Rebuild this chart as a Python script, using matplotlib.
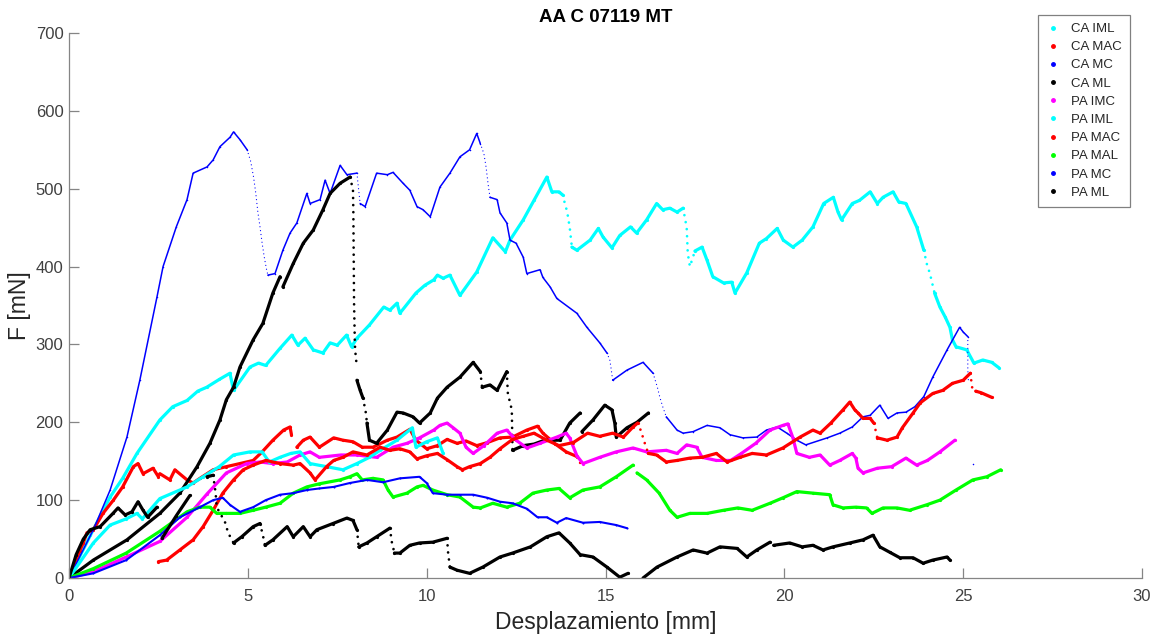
import numpy as np
import matplotlib
matplotlib.use("Agg")
import matplotlib.pyplot as plt
from matplotlib.lines import Line2D

nan = np.nan
plt.rcParams['font.family'] = ['Liberation Sans', 'DejaVu Sans']

title = "AA C 07119 MT"
xlabel = "Desplazamiento [mm]"
ylabel = "F [mN]"
labels = ["CA IML", "CA MAC", "CA MC", "CA ML", "PA IMC", "PA IML", "PA MAC", "PA MAL", "PA MC", "PA ML"]
colors = ["#00FFFF", "#FF0000", "#0000FF", "#000000", "#FF00FF", "#00FFFF", "#FF0000", "#00FF00", "#0000FF", "#000000"]
xticks = [0, 5, 10, 15, 20, 25, 30]
yticks = [0, 100, 200, 300, 400, 500, 600, 700]

# ---- densely sampled parts (drawn as continuous traces) ----
ca_iml_x = [0, 0.6, 1.15, 1.5, 1.9, 2.54, 2.9, 3.3, 3.6, 3.85, 4.2, 4.5, 4.6, 5.06, 5.3, 5.5, 5.9, 6.23, 6.4, 6.6, 6.83, 7.1, 7.3, 7.5, 7.76, 7.9, 8.05, 8.4, 8.8, 8.97, 9.17, 9.25, 9.7, 9.95, 10.2, 10.3, 10.46, 10.65, 10.93, 11.4, 11.85, 12.2, 12.33, 12.7, 13.0, 13.36, 13.5, 13.7, 13.8,
            nan, 14.06, 14.2, 14.57, 14.8, 14.93, 15.18, 15.4, 15.7, 15.87, 16.15, 16.43, 16.6, 16.8, 17.0, 17.17,
            nan, 17.5, 17.7, 17.84, 18.0, 18.3, 18.53, 18.62, 18.95, 19.3, 19.5, 19.8, 19.97, 20.24, 20.5, 20.8, 21.1, 21.37, 21.5, 21.6, 21.9, 22.1, 22.4, 22.6, 22.76, 23.04, 23.2, 23.4, 23.7, 23.9,
            nan, 24.2, 24.35, 24.5, 24.63, 24.7, 24.8, 25.1, 25.3, 25.55, 25.8, 26.0]
ca_iml_y = [0, 55, 104, 128, 160, 203, 220, 228, 240, 245, 255, 263, 241, 271, 276, 273, 295, 312, 299, 308, 293, 289, 302, 299, 312, 297, 308, 325, 348, 344, 353, 340, 366, 376, 383, 389, 385, 389, 363, 393, 437, 419, 434, 460, 485, 515, 496, 496, 492,
            nan, 425, 421, 434, 449, 438, 424, 440, 451, 443, 460, 481, 473, 475, 470, 475,
            nan, 420, 425, 408, 387, 379, 380, 366, 392, 430, 436, 449, 434, 425, 434, 451, 481, 489, 470, 460, 481, 485, 496, 481, 489, 496, 483, 481, 451, 421,
            nan, 366, 348, 335, 322, 306, 297, 293, 276, 280, 277, 270]

ca_mac_x = [0, 0.3, 0.4, 0.5, 0.68, 0.95, 1.24, 1.5, 1.8, 1.93, 2.07, 2.35, 2.5, nan, 2.54, 2.82, 2.96, 3.3, 3.47, 3.66, 4.03, 4.4, 4.78, 5.15, 5.4, 5.7, 6.0, 6.18, 6.22,
            nan, 6.37, 6.55, 6.74, 7.0, 7.4, 7.66, 7.94, 8.2, 8.5, 8.9, 9.17, 9.53, 9.7, 10.0, 10.3, 10.57, 10.85, 11.1, 11.4, 11.7, 12.05, 12.4, 12.8, 13.1, 13.25, 13.6, 13.9, 14.2]
ca_mac_y = [0, 35, 45, 58, 62, 83, 100, 117, 143, 147, 134, 141, 130, nan, 134, 126, 139, 126, 122, 128, 139, 143, 147, 151, 162, 177, 190, 194, 184,
            nan, 168, 177, 181, 168, 180, 177, 175, 168, 168, 177, 181, 191, 177, 166, 170, 178, 173, 176, 170, 174, 180, 181, 190, 195, 186, 172, 162, 156]

ca_mc_x = [0, 0.68, 1.15, 1.62, 1.98, 2.46, 2.63, 3.0, 3.3, 3.47, 3.86, 4.03, 4.22, 4.5, 4.6, 4.78, 4.98,
           nan, 5.56, 5.76, 5.98, 6.18, 6.37, 6.65, 6.74, 7.02, 7.16, 7.3, 7.58, 7.77, 8.05,
           nan, 8.14, 8.28, 8.6, 8.9, 9.06, 9.34, 9.53, 9.73, 9.9, 10.1, 10.37, 10.65, 10.93, 11.2, 11.4, 11.5,
           nan, 11.77, 11.97, 12.05, 12.24, 12.33, 12.5, 12.7, 12.8, 13.17, 13.25, 13.45, 13.64, 14.2, 14.48, 14.84, 15.04,
           nan, 15.2, 15.6, 16.05, 16.33,
           nan, 16.7, 17.0, 17.17, 17.45, 17.84, 18.2, 18.48, 18.84, 19.23, 19.5, 19.8, 20.07, 20.35, 20.6, 21.2, 21.55, 21.9, 22.2, 22.4, 22.67, 22.9, 23.15, 23.4, 23.65, 23.9, 24.15, 24.55, 24.9, 25.0, 25.13,
           nan, 25.27]
ca_mc_y = [0, 62, 113, 181, 254, 361, 400, 451, 486, 520, 528, 537, 554, 566, 573, 563, 550,
           nan, 389, 391, 421, 443, 456, 494, 481, 486, 511, 494, 530, 518, 520,
           nan, 481, 477, 520, 518, 521, 507, 498, 477, 473, 464, 502, 520, 541, 550, 571, 558,
           nan, 489, 486, 469, 456, 434, 430, 412, 391, 396, 386, 374, 359, 340, 322, 302, 289,
           nan, 254, 267, 277, 263,
           nan, 207, 190, 186, 188, 196, 193, 184, 180, 181, 190, 194, 186, 177, 171, 180, 186, 194, 207, 209, 222, 205, 212, 213, 220, 233, 258, 293, 322, 316, 310,
           nan, 146]

ca_ml_x = [0, 0.68, 1.62, 2.54, 3.1, 3.58, 3.94, 4.22, 4.4, 4.6, 4.78, 5.15, 5.42, 5.7, 5.9, nan, 5.98, 6.27, 6.55, 6.83, 7.1, 7.3, 7.58, 7.86,
           nan, 8.05, 8.14, 8.22, nan,
           8.33, 8.4, 8.6, 8.9, 9.17, 9.34, 9.62, 9.8, 10.1, 10.3, 10.57, 10.93, 11.3, 11.5, nan, 11.55, 11.77, 11.97, 12.24,
           nan, 12.4, 12.7, 13.0, 13.3, 13.73, 14.0, 14.29, nan, 14.34, 14.65, 14.98, 15.18, 15.26, 15.3, 15.6, 15.88, 16.2]
ca_ml_y = [0, 23, 49, 83, 109, 143, 173, 203, 229, 245, 271, 306, 327, 366, 387, nan, 374, 404, 430, 447, 473, 494, 507, 515,
           nan, 254, 241, 231, nan,
           199, 177, 173, 190, 213, 212, 207, 199, 212, 231, 245, 258, 277, 265, nan, 245, 248, 241, 265,
           nan, 164, 170, 172, 177, 177, 199, 212, nan, 188, 203, 222, 216, 199, 181, 193, 200, 212]

pa_imc_x = [0, 0.68, 1.6, 2.54, 3.3, 3.86, 4.4, 4.97, 5.34, 5.7, 6.1, 6.46, 6.74, 7.0, 7.6, 8.05, 8.6, 9.06, 9.45, 9.8, 10.2, 10.37, 10.57, 10.74, 10.93, 11.1, 11.3, 11.6, 11.97, 12.24, 12.5, 12.8, 13.17, 13.64, 13.9, 14.0, 14.2, 14.37, 14.84, 15.3, 15.77, 16.15, 16.7, 17.0, 17.27, 17.55, 17.7, 18.1, 18.5, 18.8, 19.2, 19.6, 19.96, 20.1, 20.24, 20.35, 20.7, 21.0, 21.27, 21.55, 21.9, 22.0, 22.06, 22.2, 22.6, 23.0, 23.4, 23.7, 24.0, 24.35, 24.77]
pa_imc_y = [0, 8, 27, 47, 78, 108, 135, 147, 149, 147, 149, 158, 162, 155, 158, 158, 155, 168, 173, 180, 190, 196, 199, 193, 186, 168, 160, 170, 186, 190, 177, 167, 173, 181, 186, 180, 157, 147, 155, 162, 167, 162, 164, 160, 171, 168, 155, 151, 151, 160, 173, 190, 196, 198, 180, 160, 155, 158, 145, 151, 160, 154, 141, 135, 141, 143, 154, 145, 151, 162, 177]

pa_iml_x = [0, 0.68, 1.15, 1.6, 1.9, 2.05, 2.54, 3.3, 3.75, 4.2, 4.6, 5.06, 5.4, 5.6, 5.9, 6.2, 6.46, 6.74, 7.2, 7.66, 8.05, 8.4, 8.7, 9.17, 9.6, 9.7, 10.0, 10.3, 10.46]
pa_iml_y = [0, 45, 68, 76, 83, 76, 102, 117, 130, 143, 158, 162, 162, 149, 155, 160, 162, 147, 143, 139, 147, 155, 164, 177, 193, 168, 175, 180, 160]

pa_mac_x = [2.5, 2.73, 3.1, 3.47, 3.75, 4.03, 4.3, 4.6, 4.87, 5.15, 5.5, 5.9, 6.27, 6.46, 6.74, 6.88, 7.2, 7.4, 7.66, 7.94, 8.33, 8.7, 8.97, 9.25, 9.53, 9.73, 10.0, 10.3, 10.57, 10.85, 11.0, 11.2, 11.5, 11.77, 12.05, 12.4, 12.7, 13.0, 13.36, 13.7, 14.1, 14.5, 14.84, 15.2, 15.5, 15.77, 15.9,
            nan, 16.2, 16.43, 16.7, 17.0, 17.36, 17.7, 18.1, 18.4, 18.76, 19.1, 19.5, 19.96, 20.44, 20.8, 21.0, 21.3, 21.64, 21.83, 21.97, 22.06, 22.2, 22.4, 22.5,
            nan, 22.6, 22.87, 23.15, 23.3, 23.6, 23.8, 24.15, 24.43, 24.7, 25.0, 25.2, nan, 25.35, 25.5, 25.8]
pa_mac_y = [21, 23, 36, 49, 66, 87, 109, 126, 139, 145, 151, 147, 145, 147, 135, 126, 143, 151, 155, 162, 158, 168, 164, 166, 162, 153, 157, 160, 152, 143, 139, 143, 147, 155, 166, 178, 182, 186, 177, 170, 174, 186, 182, 186, 181, 194, 199,
            nan, 160, 158, 149, 151, 154, 155, 160, 149, 155, 160, 158, 167, 181, 190, 186, 199, 216, 226, 216, 212, 205, 205, 199,
            nan, 180, 177, 181, 193, 212, 225, 237, 241, 250, 254, 263, nan, 240, 238, 232]

pa_mal_x = [0, 0.68, 1.6, 2.54, 3.3, 3.66, 3.94, 4.13, 4.4, 4.78, 5.15, 5.5, 5.9, 6.27, 6.65, 7.0, 7.58, 7.85, 8.05, 8.2, 8.5, 8.78, 8.92, 9.06, 9.45, 9.73, 9.9, 10.17, 10.57, 10.93, 11.3, 11.5, 11.85, 12.24, 12.6, 12.97, 13.36, 13.7, 14.0, 14.37, 14.84, 15.3, 15.77, nan, 15.88, 16.15, 16.5, 16.8, 17.0, 17.36, 17.84, 18.3, 18.7, 19.1, 19.6, 19.96, 20.35, 20.8, 21.27, 21.36, 21.64, 22.0, 22.3, 22.45, 22.76, 23.15, 23.5, 23.98, 24.35, 24.8, 25.27, 25.66, 26.05]
pa_mal_y = [0, 12, 32, 60, 85, 91, 91, 83, 83, 83, 87, 91, 96, 109, 117, 121, 126, 130, 134, 126, 128, 126, 113, 104, 109, 117, 119, 113, 107, 104, 91, 90, 96, 91, 96, 109, 113, 115, 103, 113, 117, 130, 145, nan, 135, 126, 109, 87, 78, 83, 83, 87, 90, 87, 96, 103, 111, 109, 107, 94, 90, 91, 90, 83, 90, 90, 87, 94, 100, 113, 126, 130, 139]

pa_mc_x = [0, 0.68, 1.6, 2.54, 3.1, 3.66, 4.03, 4.3, 4.5, 4.78, 5.15, 5.5, 5.9, 6.27, 6.65, 7.0, 7.4, 7.85, 8.33, 8.78, 9.25, 9.8, 10.0, 10.17, 10.57, 10.93, 11.3, 11.7, 12.05, 12.4, 12.8, 13.1, 13.36, 13.64, 13.9, 14.37, 14.84, 15.3, 15.6]
pa_mc_y = [0, 6, 23, 55, 78, 91, 100, 103, 94, 85, 91, 100, 107, 109, 113, 115, 117, 122, 126, 123, 128, 130, 122, 109, 107, 107, 107, 103, 98, 96, 89, 78, 78, 71, 77, 71, 72, 68, 64]

pa_ml_x = [0, 0.2, 0.4, 0.59, 0.87, 1.23, 1.37, 1.57, 1.76, 1.93, 2.07, 2.2, 2.46, nan, 2.6, 3.0, 3.38, nan, 3.86, 4.03,
           nan, 4.6, 4.83, 5.15, 5.34, nan,
           5.48, 5.7, 6.1, 6.27, 6.55, 6.74, 6.93, 7.38, 7.77, 7.94, 8.05, nan, 8.1, 8.33, 8.6, 8.97, nan,
           9.1, 9.25, 9.53, 9.8, 10.17, 10.57, nan, 10.65, 10.85, 11.2, 11.57, 12.05, 12.4, 12.9, 13.36, 13.7, 14.0, 14.29, 14.65, 15.04, 15.4, 15.63,
           nan, 16.05, 16.44, 17.0, 17.45, 17.84, 18.2, 18.68, 18.95, 19.23, 19.6, nan, 19.7, 20.15, 20.5, 20.8, 21.08, 21.36, 21.83, 22.2, 22.48, 22.67, 22.95, 23.23, 23.6, 23.88, 24.15, 24.55, 24.63]
pa_ml_y = [0, 30, 50, 62, 66, 83, 90, 81, 85, 98, 87, 78, 91, nan, 51, 80, 106, nan, 130, 132,
           nan, 45, 53, 66, 70, nan,
           42, 49, 66, 53, 66, 53, 62, 70, 77, 74, 62, nan, 40, 45, 53, 64, nan,
           32, 32, 42, 45, 46, 51, nan, 14, 10, 6, 14, 27, 32, 40, 53, 58, 45, 30, 27, 14, 1, 6,
           nan, 0, 14, 27, 36, 32, 40, 38, 27, 36, 46, nan, 42, 45, 40, 42, 36, 40, 45, 49, 55, 40, 33, 26, 26, 19, 23, 27, 23]

# ---- sparsely sampled jumps (drawn as dotted traces) ----
ca_iml_gap_x = [13.8, 13.93, 14.0, 14.06, nan, 17.17, 17.27, 17.3, 17.36, 17.5, nan, 23.9, 23.98, 24.07, 24.2]
ca_iml_gap_y = [492, 470, 450, 425, nan, 475, 450, 417, 400, 420, nan, 421, 404, 391, 366]
ca_mac_gap_x = [14.2, 14.29, 14.34]
ca_mac_gap_y = [156, 148, 143]
ca_mc_gap_x = [4.98, 5.08, 5.16, 5.22, 5.28, 5.34, 5.4, 5.46, 5.52, 5.56, nan, 8.05, 8.1, 8.14, nan, 11.5, 11.6, 11.66, 11.72, 11.77,
               nan, 15.04, 15.12, 15.16, 15.2, nan, 16.33, 16.45, 16.52, 16.6, 16.7, nan, 25.13, 25.13, 25.15]
ca_mc_gap_y = [550, 535, 515, 495, 470, 451, 430, 412, 397, 389, nan, 520, 498, 481, nan, 558, 545, 528, 505, 489,
               nan, 289, 280, 268, 254, nan, 263, 245, 232, 220, 207, nan, 310, 267, 250]
ca_ml_gap_x = [7.86, 7.94, 7.95, 7.97, 7.99, 8.0, 8.05, nan, 8.22, 8.3, 8.33, nan, 11.5, 11.55, nan, 12.24, 12.27, 12.38, 12.4]
ca_ml_gap_y = [515, 498, 470, 353, 306, 293, 270, nan, 231, 212, 199, nan, 265, 245, nan, 265, 237, 216, 164]
pa_mac_gap_x = [15.9, 16.0, 16.07, 16.15, 16.2, nan, 22.5, 22.55, 22.6, nan, 25.2, 25.25, 25.35]
pa_mac_gap_y = [199, 188, 177, 166, 160, nan, 199, 190, 180, nan, 263, 245, 240]
pa_ml_gap_x = [4.03, 4.1, 4.13, 4.36, 4.45, 4.6, nan, 5.34, 5.42, 5.48, nan, 8.05, 8.08, 8.1, nan, 8.97, 9.03, 9.1, nan, 10.57, 10.6, 10.65]
pa_ml_gap_y = [132, 109, 91, 72, 58, 45, nan, 70, 55, 42, nan, 62, 49, 40, nan, 64, 45, 32, nan, 51, 32, 14]

series_x = [ca_iml_x, ca_mac_x, ca_mc_x, ca_ml_x, pa_imc_x, pa_iml_x, pa_mac_x, pa_mal_x, pa_mc_x, pa_ml_x]
series_y = [ca_iml_y, ca_mac_y, ca_mc_y, ca_ml_y, pa_imc_y, pa_iml_y, pa_mac_y, pa_mal_y, pa_mc_y, pa_ml_y]
gaps_x = [ca_iml_gap_x, ca_mac_gap_x, ca_mc_gap_x, ca_ml_gap_x, [], [], pa_mac_gap_x, [], [], pa_ml_gap_x]
gaps_y = [ca_iml_gap_y, ca_mac_gap_y, ca_mc_gap_y, ca_ml_gap_y, [], [], pa_mac_gap_y, [], [], pa_ml_gap_y]
widths = [2.3, 2.3, 1.1, 2.3, 2.3, 2.3, 2.3, 2.3, 1.5, 2.3]

fig = plt.figure(figsize=(11.6, 6.41), dpi=100)
ax = fig.add_axes([69 / 1160, 1 - 578 / 641, (1142 - 69) / 1160, (578 - 33) / 641])

for xs, ys, gx, gy, c, lw in zip(series_x, series_y, gaps_x, gaps_y, colors, widths):
    ax.plot(np.array(xs, float), np.array(ys, float), color=c, lw=lw, marker='o', ms=lw, mew=0,
            solid_joinstyle='round', solid_capstyle='round')
    if len(gx):
        gap_dash = (0, (0.01, 2.6)) if lw > 2 else (0, (0.01, 3.0))
        ax.plot(np.array(gx, float), np.array(gy, float), color=c, lw=lw * 0.85, ls=gap_dash,
                dash_capstyle='round')

ax.set_xlim(0, 30)
ax.set_ylim(0, 700)
ax.set_xticks(xticks)
ax.set_yticks(yticks)
for s in ['top', 'right']:
    ax.spines[s].set_visible(False)
for s in ['left', 'bottom']:
    ax.spines[s].set_color('#858585')
    ax.spines[s].set_linewidth(0.9)
ax.tick_params(direction='in', length=7, width=0.9, color='#858585', labelcolor='#404040', labelsize=12)
ax.tick_params(axis='x', pad=8)
ax.tick_params(axis='y', pad=4)
ax.set_xlabel(xlabel, fontsize=16.5, color='#262626', labelpad=5)
ax.set_ylabel(ylabel, fontsize=16.5, color='#262626', labelpad=3)
ax.set_title(title, fontsize=13.5, fontweight='bold', color='#000000', pad=8)

handles = [Line2D([], [], ls='none', marker='.', ms=5, color=c) for c in colors]
leg = fig.legend(handles, labels, loc='upper left', bbox_to_anchor=(1038 / 1160, 1 - 15 / 641),
                 fontsize=9.5, frameon=True, fancybox=False, edgecolor='#808080', framealpha=1,
                 labelspacing=0.45, handlelength=1.0, handletextpad=0.9, borderpad=0.6, borderaxespad=0)
leg.get_frame().set_linewidth(0.9)
for t in leg.get_texts():
    t.set_color('#262626')

fig.savefig('out.png', dpi=100)
